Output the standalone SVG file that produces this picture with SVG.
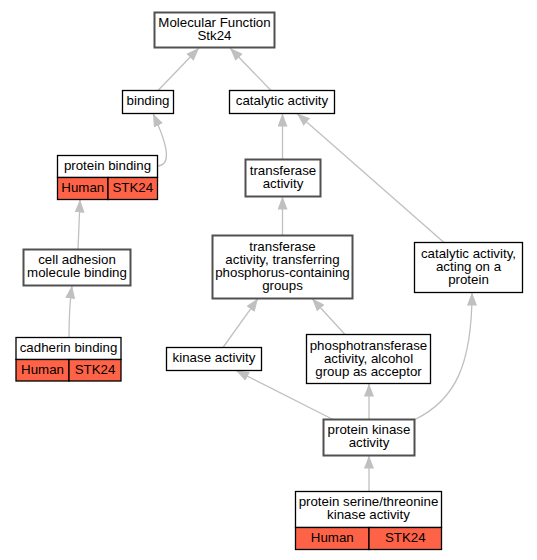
<svg xmlns="http://www.w3.org/2000/svg" width="537" height="560" viewBox="0 0 537 560">
<style>
text{font-family:"Liberation Sans",Arial,sans-serif;font-size:13.3px;fill:#000;text-anchor:middle}
.n{fill:#fff;stroke:#000;stroke-width:1.3}
.g{fill:#fff;stroke:#505050;stroke-width:2}
.r{fill:#ff6347;stroke:#000;stroke-width:1.3}
.e{fill:none;stroke:#c0c0c0;stroke-width:1.3;marker-end:url(#ah)}
</style>
<defs>
<marker id="ah" markerUnits="userSpaceOnUse" markerWidth="13" markerHeight="10" viewBox="0 0 13 10" refX="13" refY="5" orient="auto">
<path d="M0,0 L13,5 L0,10 z" fill="#c0c0c0"/>
</marker>
</defs>
<rect width="537" height="560" fill="#fff"/>
<g id="connectors">
<path class="e" d="M158,90.5 L199,48"/>
<path class="e" d="M271,90.5 L230,48"/>
<path class="e" d="M158,166 C170,165 170,150 153,113.5"/>
<path class="e" d="M282.5,159.5 L282.5,113.5"/>
<path class="e" d="M444,242.5 L297,113.5"/>
<path class="e" d="M282.5,235.5 L282.5,196.5"/>
<path class="e" d="M78,249.5 C78.5,235 79.5,215 80,199.5"/>
<path class="e" d="M69,337.5 C69,315 70,300 72,285.5"/>
<path class="e" d="M223,347.5 L258,298.5"/>
<path class="e" d="M345,334.5 L312,298.5"/>
<path class="e" d="M333,419.5 L236,370.5"/>
<path class="e" d="M369,419.5 L369,383.5"/>
<path class="e" d="M415,419.5 C455,400 472,365 472,292.5"/>
<path class="e" d="M369,491.5 L369,455.5"/>
</g>
<g id="mf">
<rect class="g" x="154.5" y="12.5" width="120" height="35"/>
<text x="214.5" y="26.5">Molecular Function</text>
<text x="214.5" y="39.5">Stk24</text>
</g>
<g id="binding">
<rect class="n" x="122.5" y="90.5" width="51" height="23"/>
<text x="148" y="105">binding</text>
</g>
<g id="catalytic">
<rect class="n" x="229.5" y="90.5" width="105" height="23"/>
<text x="282" y="105">catalytic activity</text>
</g>
<g id="protein-binding">
<rect class="n" x="57.5" y="155.5" width="100" height="22"/>
<text x="107.5" y="170">protein binding</text>
<rect class="r" x="57.5" y="177.5" width="50.5" height="22"/>
<rect class="r" x="108" y="177.5" width="49.5" height="22"/>
<text x="82.75" y="192">Human</text>
<text x="132.75" y="192">STK24</text>
</g>
<g id="transferase">
<rect class="g" x="245.5" y="159.5" width="75" height="37"/>
<text x="283" y="174.5">transferase</text>
<text x="283" y="187.5">activity</text>
</g>
<g id="transferring">
<rect class="g" x="212.5" y="235.5" width="140" height="63"/>
<text x="282.5" y="250.5">transferase</text>
<text x="282.5" y="263.5">activity, transferring</text>
<text x="282.5" y="276.5">phosphorus-containing</text>
<text x="282.5" y="289.5">groups</text>
</g>
<g id="catalytic-protein">
<rect class="n" x="414.5" y="242.5" width="108" height="50"/>
<text x="468.5" y="257.5">catalytic activity,</text>
<text x="468.5" y="270.5">acting on a</text>
<text x="468.5" y="283.5">protein</text>
</g>
<g id="cell-adhesion">
<rect class="g" x="23.5" y="249.5" width="107" height="36"/>
<text x="77" y="264">cell adhesion</text>
<text x="77" y="277">molecule binding</text>
</g>
<g id="cadherin">
<rect class="n" x="16" y="337.5" width="105" height="22"/>
<text x="68.5" y="352">cadherin binding</text>
<rect class="r" x="16" y="359.5" width="53" height="21.5"/>
<rect class="r" x="69" y="359.5" width="52" height="21.5"/>
<text x="42.5" y="374">Human</text>
<text x="95" y="374">STK24</text>
</g>
<g id="kinase">
<rect class="n" x="166.5" y="347.5" width="95" height="23"/>
<text x="214" y="362">kinase activity</text>
</g>
<g id="phosphotransferase">
<rect class="n" x="306.5" y="334.5" width="124" height="49"/>
<text x="368.5" y="349.5">phosphotransferase</text>
<text x="368.5" y="362.5">activity, alcohol</text>
<text x="368.5" y="375.5">group as acceptor</text>
</g>
<g id="protein-kinase">
<rect class="g" x="323.5" y="419.5" width="91" height="36"/>
<text x="369" y="434">protein kinase</text>
<text x="369" y="447">activity</text>
</g>
<g id="ser-thr-kinase">
<rect class="n" x="295.5" y="491.5" width="146" height="36"/>
<text x="368.5" y="506">protein serine/threonine</text>
<text x="368.5" y="519">kinase activity</text>
<rect class="r" x="295.5" y="527.5" width="73.5" height="22"/>
<rect class="r" x="369" y="527.5" width="72.5" height="22"/>
<text x="332.25" y="542">Human</text>
<text x="405.25" y="542">STK24</text>
</g>
</svg>
